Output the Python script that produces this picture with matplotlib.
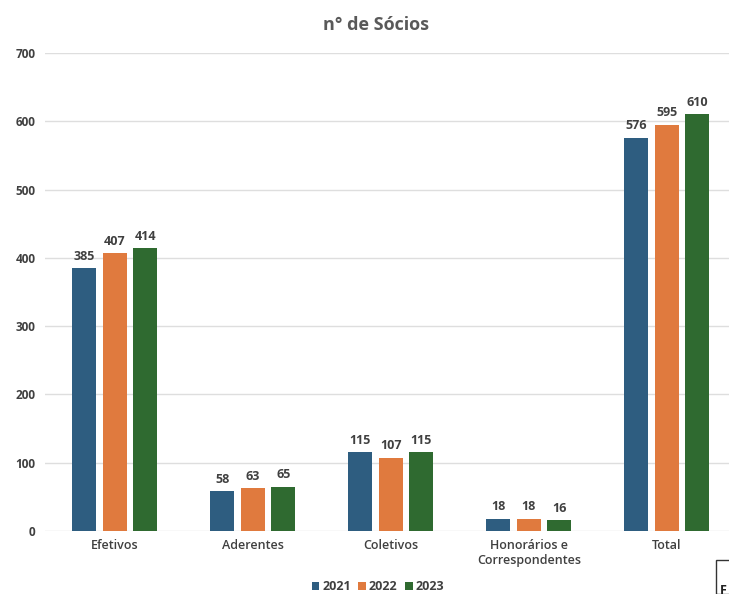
import numpy as np
import matplotlib.pyplot as plt
from matplotlib.patches import Rectangle

categories = ["Efetivos", "Aderentes", "Coletivos", "Honorários e\nCorrespondentes", "Total"]
years = ["2021", "2022", "2023"]
v2021 = [385, 58, 115, 18, 576]
v2022 = [407, 63, 107, 18, 595]
v2023 = [414, 65, 115, 16, 610]
colors = ["#2e5d80", "#e07a3e", "#2f6a30"]

plt.rcParams['font.family'] = ['Open Sans', 'DejaVu Sans']
fig = plt.figure(figsize=(7.29, 5.94), dpi=100)
ax = fig.add_axes([45 / 729, (594 - 531) / 594, 1 - 45 / 729, (531 - 53) / 594])

x = np.arange(len(categories))
w = 0.174
off = 0.221
for i, (vals, c, yr) in enumerate(zip([v2021, v2022, v2023], colors, years)):
    bars = ax.bar(x + (i - 1) * off, vals, w, color=c, label=yr)
    for b, v in zip(bars, vals):
        ax.text(b.get_x() + b.get_width() / 2, v + 8, str(v), ha="center", va="bottom",
                fontsize=9, fontweight="bold", color="#404040")

ax.set_ylim(0, 700)
ax.set_xlim(-0.507, 4.45)
ax.set_yticks(range(0, 701, 100))
ax.tick_params(axis="y", length=0, pad=7, labelsize=8.5, labelcolor="#404040")
for t in ax.get_yticklabels():
    t.set_fontweight("bold")
ax.set_xticks(x)
ax.set_xticklabels(categories, fontsize=9, color="#404040", fontweight="semibold", linespacing=1.2)
ax.tick_params(axis="x", length=0, pad=6)
ax.grid(axis="y", color="#dedede", linewidth=1)
ax.set_axisbelow(True)
for s in ax.spines.values():
    s.set_visible(False)

fig.text(376 / 729, 1 - 25 / 594, "n° de Sócios", ha="center", va="center",
         fontsize=13, fontweight="bold", color="#595959")

leg = fig.legend(loc="center", bbox_to_anchor=(378 / 729, 1 - 587 / 594), ncol=3, frameon=False,
                 fontsize=9, handlelength=0.6, handleheight=0.6, handletextpad=0.25,
                 columnspacing=0.6, labelcolor="#404040")
for t in leg.get_texts():
    t.set_fontweight("bold")

# partial box cut off at the lower right corner
fig.patches.append(Rectangle((716 / 729, 0), 0.05, 34 / 594, transform=fig.transFigure,
                             fill=False, edgecolor="#333333", linewidth=1))
fig.text(720 / 729, 1 - 590 / 594, "F", fontsize=9, fontweight="bold", color="#222222", va="center")

fig.savefig("out.png", dpi=100)
